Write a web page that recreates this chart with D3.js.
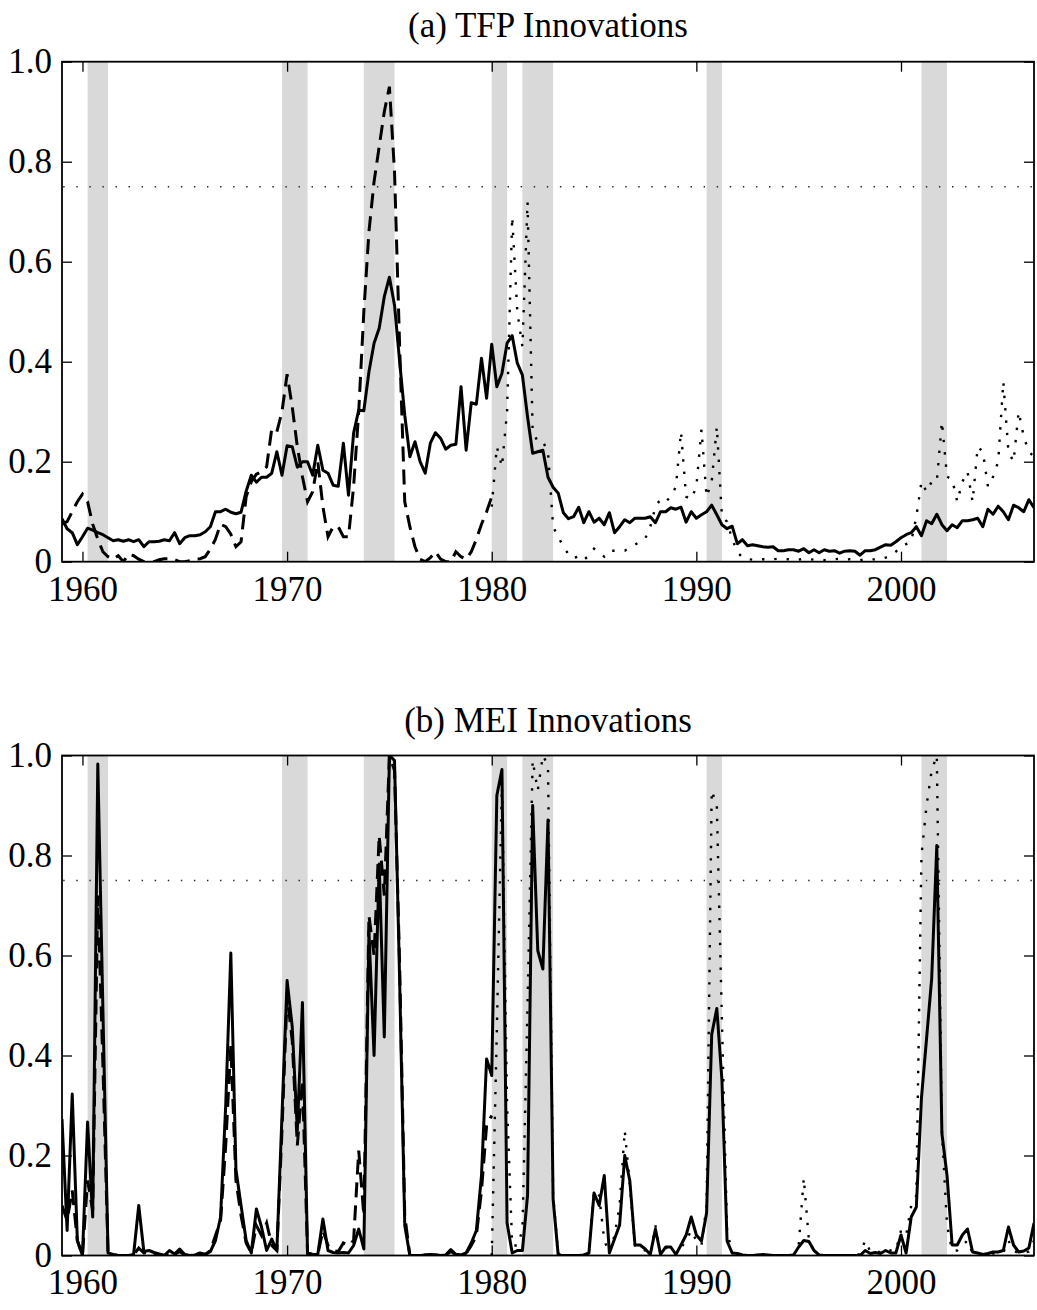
<!DOCTYPE html>
<html>
<head>
<meta charset="utf-8">
<script src="https://cdn.jsdelivr.net/npm/d3@7"></script>
<style>
  body { margin: 0; background: #fff; }
  text { font-family: "Liberation Serif", "Times New Roman", serif; }
</style>
</head>
<body>
<svg id="chart" width="1037" height="1310"></svg>
<script>
// quarterly data, first point = 1959Q1
const startYear = 1959;

// shaded recession periods (year fractions)
const recessions = [
  [1960.25, 1961.25], [1969.75, 1971.0], [1973.75, 1975.25],
  [1980.0, 1980.75], [1981.5, 1983.0], [1990.5, 1991.25], [2001.0, 2002.25]
];

const xTicks = [1960, 1970, 1980, 1990, 2000];
const yTicks = [0, 0.2, 0.4, 0.6, 0.8, 1.0];
const yTickLabels = ["0", "0.2", "0.4", "0.6", "0.8", "1.0"];
const threshold = 0.75;

// (a) TFP innovations
const tfpSolid = [
  0.086, 0.066, 0.058, 0.034, 0.05, 0.067, 0.063, 0.058, 0.054, 0.048,
  0.042, 0.044, 0.041, 0.044, 0.04, 0.044, 0.03, 0.04, 0.04, 0.041,
  0.044, 0.042, 0.058, 0.036, 0.048, 0.052, 0.052, 0.054, 0.06, 0.07,
  0.10, 0.10, 0.105, 0.099, 0.096, 0.099, 0.141, 0.173, 0.159, 0.169,
  0.169, 0.177, 0.22, 0.173, 0.232, 0.23, 0.189, 0.20, 0.20, 0.173,
  0.233, 0.183, 0.177, 0.153, 0.151, 0.237, 0.133, 0.257, 0.303, 0.302,
  0.38, 0.437, 0.467, 0.53, 0.569, 0.513, 0.40, 0.293, 0.21, 0.24,
  0.20, 0.177, 0.237, 0.258, 0.247, 0.225, 0.233, 0.235, 0.35, 0.223,
  0.318, 0.315, 0.407, 0.327, 0.435, 0.35, 0.377, 0.437, 0.452, 0.397,
  0.373, 0.29, 0.217, 0.22, 0.223, 0.169, 0.149, 0.137, 0.098, 0.086,
  0.09, 0.109, 0.078, 0.10, 0.079, 0.087, 0.074, 0.098, 0.058, 0.07,
  0.084, 0.078, 0.087, 0.087, 0.087, 0.09, 0.078, 0.10, 0.10, 0.108,
  0.105, 0.109, 0.079, 0.10, 0.087, 0.094, 0.10, 0.113, 0.094, 0.074,
  0.066, 0.071, 0.036, 0.044, 0.032, 0.034, 0.032, 0.03, 0.029, 0.03,
  0.022, 0.022, 0.024, 0.024, 0.021, 0.026, 0.018, 0.024, 0.018, 0.024,
  0.021, 0.022, 0.017, 0.021, 0.022, 0.021, 0.013, 0.022, 0.022, 0.024,
  0.029, 0.034, 0.033, 0.04, 0.048, 0.054, 0.058, 0.07, 0.052, 0.082,
  0.076, 0.095, 0.074, 0.062, 0.074, 0.068, 0.082, 0.082, 0.084, 0.087,
  0.07, 0.105, 0.095, 0.111, 0.10, 0.084, 0.113, 0.108, 0.10, 0.124, 0.108
];
// 1959Q1 - 1980Q1
const tfpDashed = [
  0.075, 0.08, 0.10, 0.12, 0.135, 0.12, 0.075, 0.045, 0.02, 0.01,
  0.005, 0.012, 0.0, 0.015, 0.012, 0.005, 0.0, 0.0, 0.0, 0.004,
  0.006, 0.006, 0.004, 0.0, 0.0, 0.002, 0.005, 0.006, 0.01, 0.025,
  0.045, 0.075, 0.07, 0.055, 0.03, 0.04, 0.13, 0.16, 0.175, 0.18,
  0.19, 0.266, 0.26, 0.30, 0.375, 0.31, 0.23, 0.17, 0.12, 0.14,
  0.20, 0.11, 0.05, 0.07, 0.07, 0.05, 0.05, 0.15, 0.30, 0.50,
  0.66, 0.76, 0.83, 0.90, 0.95, 0.78, 0.43, 0.12, 0.07, 0.03,
  0.005, 0.0, 0.008, 0.02, 0.005, 0.0, 0.0, 0.02, 0.01, 0.005,
  0.02, 0.045, 0.075, 0.10, 0.13
];
// 1980Q1 - 2006Q3
const tfpDotted = [
  0.11, 0.23, 0.19, 0.30, 0.69, 0.50, 0.43, 0.72, 0.26, 0.24,
  0.24, 0.22, 0.07, 0.05, 0.03, 0.015, 0.006, 0.012, 0.004, 0.012,
  0.026, 0.018, 0.01, 0.022, 0.022, 0.022, 0.022, 0.028, 0.034, 0.04,
  0.046, 0.07, 0.11, 0.125, 0.12, 0.13, 0.15, 0.26, 0.13, 0.125,
  0.15, 0.264, 0.13, 0.16, 0.27, 0.09, 0.08, 0.045, 0.02, 0.008,
  0.005, 0.004, 0.006, 0.005, 0.003, 0.005, 0.006, 0.004, 0.005, 0.003,
  0.004, 0.006, 0.005, 0.004, 0.005, 0.003, 0.004, 0.005, 0.006, 0.004,
  0.005, 0.004, 0.003, 0.005, 0.006, 0.004, 0.005, 0.008, 0.012, 0.02,
  0.03, 0.035, 0.04, 0.09, 0.16, 0.14, 0.16, 0.16, 0.28, 0.17,
  0.165, 0.12, 0.16, 0.18, 0.12, 0.23, 0.22, 0.15, 0.17, 0.20,
  0.36, 0.22, 0.20, 0.30, 0.25, 0.22, 0.21
];

// (b) MEI innovations
const meiSolid = [
  0.273, 0.05, 0.323, 0.03, 0.0, 0.267, 0.077, 0.983, 0.49, 0.005,
  0.002, 0.0, 0.0, 0.0, 0.002, 0.10, 0.008, 0.01, 0.006, 0.003,
  0.0, 0.01, 0.003, 0.013, 0.002, 0.0, 0.001, 0.005, 0.002, 0.008,
  0.03, 0.077, 0.30, 0.605, 0.172, 0.10, 0.03, 0.005, 0.093, 0.057,
  0.01, 0.033, 0.01, 0.28, 0.55, 0.458, 0.25, 0.506, 0.005, 0.002,
  0.002, 0.073, 0.01, 0.006, 0.005, 0.006, 0.005, 0.02, 0.053, 0.013,
  0.647, 0.40, 0.783, 0.437, 1.0, 0.99, 0.55, 0.06, 0.0, 0.0,
  0.0, 0.001, 0.002, 0.001, 0.0, 0.001, 0.012, 0.002, 0.001, 0.005,
  0.025, 0.05, 0.16, 0.393, 0.36, 0.92, 0.972, 0.065, 0.005, 0.01,
  0.01, 0.12, 0.90, 0.61, 0.573, 0.871, 0.113, 0.0, 0.0, 0.0,
  0.0, 0.0, 0.001, 0.005, 0.125, 0.10, 0.16, 0.005, 0.033, 0.061,
  0.20, 0.149, 0.021, 0.021, 0.013, 0.002, 0.053, 0.002, 0.017, 0.017,
  0.002, 0.021, 0.041, 0.077, 0.041, 0.029, 0.085, 0.442, 0.494, 0.351,
  0.029, 0.005, 0.004, 0.001, 0.0, 0.0, 0.001, 0.002, 0.001, 0.0,
  0.0, 0.0, 0.0, 0.001, 0.017, 0.03, 0.028, 0.01, 0.001, 0.0,
  0.0, 0.0, 0.0, 0.0, 0.0, 0.0, 0.0, 0.01, 0.004, 0.006,
  0.004, 0.01, 0.005, 0.005, 0.041, 0.005, 0.077, 0.097, 0.315, 0.434,
  0.554, 0.82, 0.244, 0.16, 0.021, 0.021, 0.041, 0.053, 0.007, 0.005,
  0.002, 0.004, 0.007, 0.007, 0.01, 0.057, 0.021, 0.007, 0.009, 0.015, 0.065
];
// 1959Q1 - 1980Q1
const meiDashed = [
  0.10, 0.07, 0.13, 0.03, 0.0, 0.15, 0.09, 0.72, 0.38, 0.004,
  0.001, 0.0, 0.0, 0.0, 0.001, 0.015, 0.005, 0.006, 0.004, 0.002,
  0.0, 0.006, 0.002, 0.008, 0.001, 0.0, 0.001, 0.004, 0.002, 0.01,
  0.04, 0.07, 0.22, 0.42, 0.15, 0.08, 0.025, 0.005, 0.06, 0.04,
  0.065, 0.02, 0.01, 0.25, 0.52, 0.43, 0.22, 0.35, 0.004, 0.002,
  0.002, 0.05, 0.02, 0.01, 0.008, 0.025, 0.02, 0.03, 0.21, 0.08,
  0.68, 0.60, 0.84, 0.72, 1.0, 0.97, 0.58, 0.08, 0.0, 0.0,
  0.0, 0.001, 0.001, 0.001, 0.0, 0.001, 0.008, 0.002, 0.001, 0.004,
  0.02, 0.04, 0.13, 0.26, 0.28
];
// 1980Q1 - 2006Q3
const meiDotted = [
  0.0, 0.45, 0.95, 0.30, 0.02, 0.02, 0.05, 0.50, 0.99, 0.93,
  1.0, 0.98, 0.12, 0.004, 0.0, 0.0, 0.0, 0.0, 0.001, 0.01,
  0.13, 0.12, 0.03, 0.005, 0.04, 0.10, 0.25, 0.14, 0.02, 0.02,
  0.01, 0.002, 0.06, 0.002, 0.015, 0.015, 0.002, 0.015, 0.03, 0.05,
  0.03, 0.02, 0.10, 0.93, 0.90, 0.47, 0.05, 0.005, 0.003, 0.001,
  0.0, 0.0, 0.001, 0.001, 0.0, 0.0, 0.0, 0.0, 0.0, 0.001,
  0.02, 0.155, 0.03, 0.01, 0.001, 0.0, 0.0, 0.0, 0.0, 0.0,
  0.0, 0.0, 0.003, 0.03, 0.008, 0.01, 0.006, 0.012, 0.01, 0.01,
  0.05, 0.04, 0.10, 0.12, 0.80, 0.90, 0.97, 1.0, 0.25, 0.06,
  0.01, 0.01, 0.02, 0.03, 0.004, 0.003, 0.001, 0.002, 0.004, 0.004,
  0.006, 0.03, 0.01, 0.004, 0.005, 0.008, 0.03
];

const panels = [
  { title: "(a) TFP Innovations", solid: tfpSolid, dashed: tfpDashed, dotted: tfpDotted, top: 61.7, labelY: 37 },
  { title: "(b) MEI Innovations", solid: meiSolid, dashed: meiDashed, dotted: meiDotted, top: 755.5, labelY: 732 }
];

const svg = d3.select("#chart");
const left = 62, right = 1034, plotH = 500;
const fontSize = 35;

const x = d3.scaleLinear().domain([1959, 2006.5]).range([left, right]);

const toPoints = (arr, offset) => arr.map((v, i) => ({ t: startYear + (offset + i) / 4, v: v }));

panels.forEach((p, k) => {
  const y = d3.scaleLinear().domain([0, 1]).range([p.top + plotH, p.top]);
  const g = svg.append("g");

  g.append("defs").append("clipPath").attr("id", "clip" + k)
    .append("rect").attr("x", left).attr("y", p.top)
    .attr("width", right - left).attr("height", plotH);

  const plot = g.append("g").attr("clip-path", `url(#clip${k})`);

  plot.selectAll("rect.rec").data(recessions).enter().append("rect")
    .attr("class", "rec")
    .attr("x", d => x(d[0])).attr("width", d => x(d[1]) - x(d[0]))
    .attr("y", p.top).attr("height", plotH)
    .attr("fill", "#d9d9d9");

  plot.append("line")
    .attr("x1", left).attr("x2", right)
    .attr("y1", y(threshold)).attr("y2", y(threshold))
    .attr("stroke", "#222").attr("stroke-width", 1.4)
    .attr("stroke-dasharray", "1.4,11.67").attr("stroke-dashoffset", -14.3);

  const line = d3.line().x(d => x(d.t)).y(d => y(d.v));

  plot.append("path").datum(toPoints(p.dotted, 84))
    .attr("d", line).attr("fill", "none").attr("stroke", "#000")
    .attr("stroke-width", 2.4).attr("stroke-dasharray", "2.4,10");

  plot.append("path").datum(toPoints(p.dashed, 0))
    .attr("d", line).attr("fill", "none").attr("stroke", "#000")
    .attr("stroke-width", 3).attr("stroke-dasharray", "15,8");

  plot.append("path").datum(toPoints(p.solid, 0))
    .attr("d", line).attr("fill", "none").attr("stroke", "#000")
    .attr("stroke-width", 3).attr("stroke-linejoin", "round");

  // axes, ticks pointing inward on all four sides
  const yl = g.append("g").attr("transform", `translate(${left},0)`)
    .call(d3.axisLeft(y).tickValues(yTicks).tickSize(-10).tickPadding(10)
      .tickFormat((d, i) => yTickLabels[i]));
  const yr = g.append("g").attr("transform", `translate(${right},0)`)
    .call(d3.axisRight(y).tickValues(yTicks).tickSize(-10).tickFormat(""));
  const xb = g.append("g").attr("transform", `translate(0,${p.top + plotH})`)
    .call(d3.axisBottom(x).tickValues(xTicks).tickSize(-10).tickPadding(14)
      .tickFormat(d3.format("d")));
  const xt = g.append("g").attr("transform", `translate(0,${p.top})`)
    .call(d3.axisTop(x).tickValues(xTicks).tickSize(-10).tickFormat(""));

  [yl, yr, xb, xt].forEach(a => {
    a.select(".domain").remove();
    a.selectAll("line").attr("stroke", "#000").attr("stroke-width", 1.3);
    a.selectAll("text").attr("font-size", fontSize).attr("fill", "#000")
      .style("font-family", '"Liberation Serif", serif');
  });

  g.append("rect").attr("x", left).attr("y", p.top)
    .attr("width", right - left).attr("height", plotH)
    .attr("fill", "none").attr("stroke", "#000").attr("stroke-width", 1.8);

  g.append("text").attr("x", (left + right) / 2).attr("y", p.labelY)
    .attr("text-anchor", "middle").attr("font-size", fontSize)
    .text(p.title);
});
</script>
</body>
</html>
